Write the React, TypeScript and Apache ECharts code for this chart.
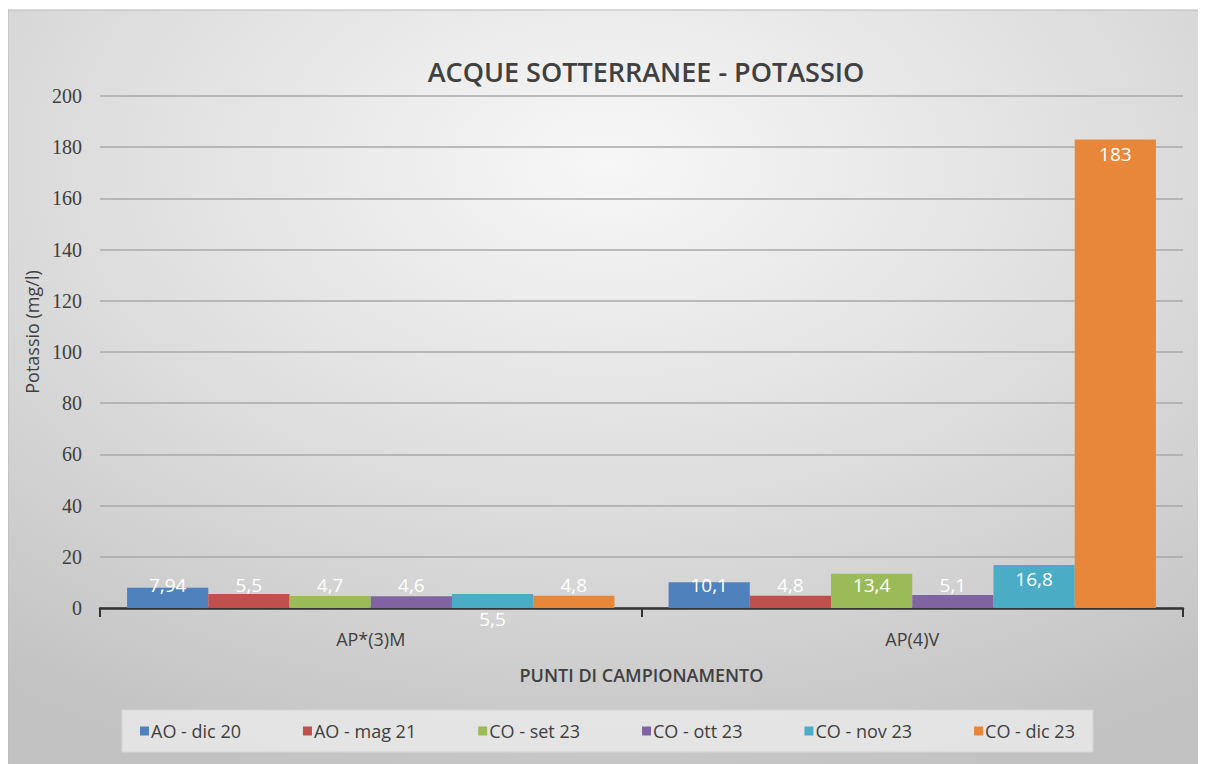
import React, { useEffect, useRef } from "react";
import * as echarts from "echarts";

const categories = ["AP*(3)M", "AP(4)V"];
const seriesNames = ["AO - dic 20", "AO - mag 21", "CO - set 23", "CO - ott 23", "CO - nov 23", "CO - dic 23"];
const aoDic20 = [7.94, 10.1];
const aoMag21 = [5.5, 4.8];
const coSet23 = [4.7, 13.4];
const coOtt23 = [4.6, 5.1];
const coNov23 = [5.5, 16.8];
const coDic23 = [4.8, 183];
const yTicks = [0, 20, 40, 60, 80, 100, 120, 140, 160, 180, 200];
const colors = ["#4f81bd", "#c0504d", "#9bbb59", "#8064a2", "#4bacc6", "#e8873a"];

const allValues = [aoDic20, aoMag21, coSet23, coOtt23, coNov23, coDic23];

const fmt = (v: number) => String(v).replace(".", ",");

export default function App() {
  const ref = useRef<HTMLDivElement>(null);
  useEffect(() => {
    if (!ref.current) return;
    const chart = echarts.init(ref.current, undefined, { renderer: "svg" });
    const labelFont = "'Open Sans', 'Noto Sans', sans-serif";
    const series = allValues.map((vals, si) => ({
      name: seriesNames[si],
      type: "bar",
      barGap: "0%",
      barCategoryGap: "10%",
      itemStyle: { color: colors[si] },
      data: vals.map((v, ci) => {
        let label: any;
        if (si === 4 && ci === 0) {
          label = { position: "bottom", distance: 1 };
        } else if (v > 15) {
          label = { position: "insideTop", distance: 5 };
        } else {
          label = { position: "insideBottom", distance: 14 };
        }
        return { value: v, label };
      }),
      label: {
        show: true,
        color: "#ffffff",
        fontSize: 19,
        fontFamily: labelFont,
        formatter: (p: any) => fmt(p.value),
      },
    }));
    chart.setOption({
      animation: false,
      color: colors,
      graphic: [
        {
          type: "rect",
          z: -10,
          silent: true,
          shape: { x: 0, y: 2, width: 1198, height: 760 },
          style: {
            fill: new echarts.graphic.RadialGradient(0.5, 0.2, 0.85, [
              { offset: 0, color: "#f7f7f7" },
              { offset: 0.55, color: "#dcdcdc" },
              { offset: 1, color: "#c2c2c2" },
            ]),
            stroke: "#b8b8b8",
            lineWidth: 1,
          },
        },
      ],
      title: {
        text: "ACQUE SOTTERRANEE - POTASSIO",
        left: 633,
        textAlign: "center",
        top: 45,
        textStyle: {
          fontFamily: labelFont,
          fontSize: 27,
          fontWeight: 600,
          color: "#404040",
        },
      },
      grid: { left: 92, right: 23, top: 88, bottom: 156 },
      legend: {
        bottom: 12,
        left: 114,
        data: seriesNames,
        itemWidth: 9,
        itemHeight: 9,
        itemGap: 62,
        icon: "rect",
        padding: [12, 18, 12, 18],
        backgroundColor: "rgba(235,235,235,0.8)",
        borderColor: "#d6d6d6",
        borderWidth: 1,
        textStyle: { fontFamily: labelFont, fontSize: 18, color: "#404040", padding: [0, 0, 0, -3] },
      },
      xAxis: {
        type: "category",
        data: categories,
        name: "PUNTI DI CAMPIONAMENTO",
        nameLocation: "middle",
        nameGap: 58,
        nameTextStyle: { fontFamily: labelFont, fontSize: 18, color: "#404040", fontWeight: 600 },
        axisLine: { lineStyle: { color: "#333333", width: 2.5 } },
        axisTick: { show: true, length: 9, lineStyle: { color: "#333333", width: 2 } },
        axisLabel: { fontFamily: labelFont, fontSize: 18, color: "#404040", margin: 22 },
      },
      yAxis: {
        type: "value",
        min: 0,
        max: 200,
        interval: 20,
        name: "Potassio (mg/l)",
        nameLocation: "middle",
        nameGap: 50,
        nameTextStyle: { fontFamily: labelFont, fontSize: 18, color: "#404040", padding: [0, 0, 0, 40] },
        axisLine: { show: false },
        axisTick: { show: false },
        splitLine: { lineStyle: { color: "#a8a8a8", width: 1.5 } },
        axisLabel: {
          fontFamily: "'Liberation Serif', 'DejaVu Serif', serif",
          fontSize: 20,
          color: "#404040",
          margin: 18,
          formatter: (v: number) => (yTicks.includes(v) ? String(v) : ""),
        },
      },
      series,
    });
    return () => chart.dispose();
  }, []);
  return <div ref={ref} style={{ width: 1198, height: 756 }} />;
}
